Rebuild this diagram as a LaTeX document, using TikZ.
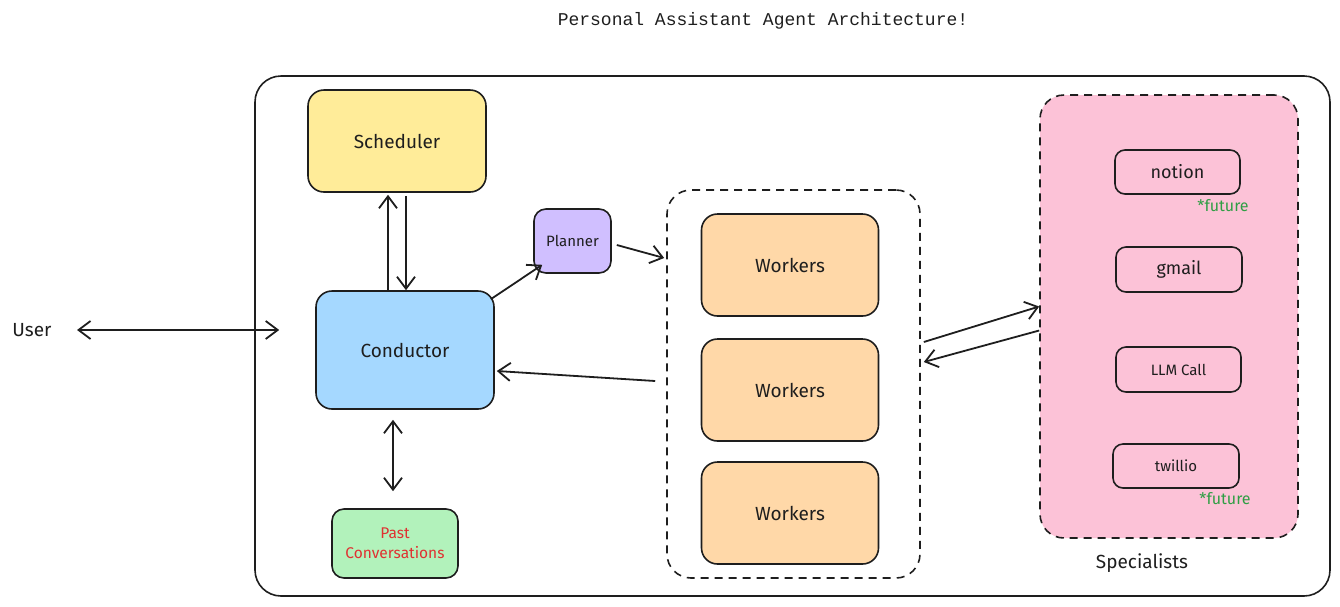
\documentclass[tikz,border=0pt]{standalone}
\usepackage{fontspec}
\setmainfont{Fira Sans}
\newfontfamily\titlefont{Liberation Mono}
\usetikzlibrary{arrows.meta}
\definecolor{ink}{HTML}{1E1E1E}
\definecolor{schedfill}{HTML}{FFEC99}
\definecolor{condfill}{HTML}{A5D8FF}
\definecolor{planfill}{HTML}{D0BFFF}
\definecolor{pastfill}{HTML}{B2F2BB}
\definecolor{workfill}{HTML}{FFD8A8}
\definecolor{specfill}{HTML}{FCC2D7}
\definecolor{pastred}{HTML}{E03131}
\definecolor{notegreen}{HTML}{2F9E44}
\begin{document}
\begin{tikzpicture}
  [x=1pt,y=-1pt,>={Straight Barb[length=12pt,width=18pt]},
   every node/.style={font=\fontsize{19}{22}\selectfont,text=ink},
   box/.style={draw=ink,line width=1.6pt,rounded corners=16pt,inner sep=0pt},
   group/.style={draw=ink,line width=1.6pt,dash pattern=on 8pt off 6pt,rounded corners=24pt,inner sep=0pt},
   link/.style={draw=ink,line width=1.8pt},
   small/.style={font=\fontsize{15}{18}\selectfont},
   mid/.style={font=\fontsize{18}{21}\selectfont},
   note/.style={font=\fontsize{16}{19}\selectfont,text=notegreen}]

  \useasboundingbox (0,0) rectangle (1340,606);

  \node (title)[font=\titlefont\fontsize{18}{21}\selectfont] at (763,21) {Personal Assistant Agent Architecture!};
  \node (frame)[box,rounded corners=26pt,minimum width=1075pt,minimum height=520pt] at (792.5,336) {};
  \node (user) at (32,330) {User};

  \node (sched)[box,fill=schedfill,minimum width=178pt,minimum height=102pt] at (397,141) {Scheduler};
  \node (cond)[box,fill=condfill,minimum width=178pt,minimum height=118pt] at (405,350) {Conductor};
  \node (plan)[box,fill=planfill,small,rounded corners=12pt,minimum width=77pt,minimum height=64pt] at (572.5,241) {Planner};
  \node (past)[box,fill=pastfill,font=\fontsize{15.5}{20}\selectfont,text=pastred,align=center,rounded corners=12pt,minimum width=126pt,minimum height=69pt] at (395,543.5) {Past\\Conversations};

  % workers
  \node (wgrp)[group,minimum width=253pt,minimum height=388pt] at (793.5,384) {};
  \foreach \i/\y in {1/265,2/390,3/513}
    \node (w\i)[box,fill=workfill,minimum width=177pt,minimum height=102pt] at (790,\y) {Workers};

  % specialists
  \node (spec)[group,fill=specfill,minimum width=258pt,minimum height=443pt] at (1169,316.5) {};
  \node (notion)[box,mid,rounded corners=10pt,minimum width=125pt,minimum height=44pt] at (1177.5,172) {notion};
  \node (gmail)[box,mid,rounded corners=10pt,minimum width=126pt,minimum height=45pt] at (1179,269.5) {gmail};
  \node (llm)[box,small,rounded corners=10pt,minimum width=125pt,minimum height=45pt] at (1178.5,369.5) {LLM Call};
  \node (twil)[box,small,rounded corners=10pt,minimum width=126pt,minimum height=44pt] at (1176,466) {twillio};
  \node (fut1)[note] at (1223,206) {*future};
  \node (fut2)[note] at (1225,499) {*future};
  \node (speclbl) at (1142,563) {Specialists};

  % connectors
  \draw[link,<->] ([xshift=22pt]user.east) -- ([xshift=25pt,yshift=6pt]frame.west);
  \draw[link,->] ([xshift=-17pt]cond.north) -- ([xshift=-9pt,yshift=-2pt]sched.south);
  \draw[link,->] ([xshift=9pt,yshift=-3pt]sched.south) -- ([xshift=1pt]cond.north);
  \draw[link,->] ([xshift=-4pt,yshift=-9pt]cond.north east) -- ([xshift=9pt,yshift=9pt]plan.south west);
  \draw[link,->] ([xshift=5pt,yshift=-4pt]plan.east) -- ([xshift=-2pt,yshift=126pt]wgrp.west);
  \draw[link,->] ([xshift=-11pt,yshift=3pt]wgrp.west) -- ([xshift=2pt,yshift=-21pt]cond.east);
  \draw[link,<->] ([xshift=-12pt,yshift=-10pt]cond.south) -- ([xshift=-2pt,yshift=17pt]past.north);
  \draw[link,->] ([xshift=3pt,yshift=42pt]wgrp.east) -- ([yshift=10pt]spec.west);
  \draw[link,->] ([yshift=-14pt]spec.west) -- ([xshift=3pt,yshift=22pt]wgrp.east);

\end{tikzpicture}
\end{document}
